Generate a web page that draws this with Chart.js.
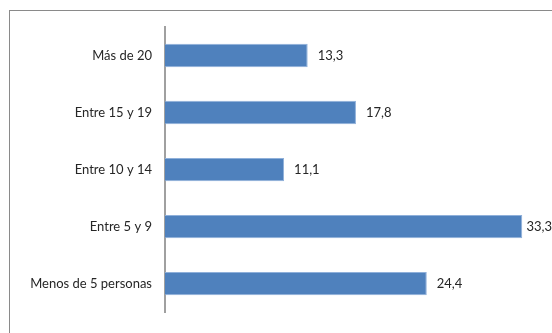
<!DOCTYPE html>
<html>
<head>
<meta charset="utf-8">
<script src="https://cdn.jsdelivr.net/npm/chart.js@4"></script>
<style>
    body { margin: 0; background: #fff; overflow: hidden; }
    .frame { position: absolute; left: 9px; top: 10px; width: 600px; height: 400px; border: 1px solid #8a8a8a; }
    #wrap { position: absolute; left: 0; top: 0; width: 552px; height: 333px; }
</style>
</head>
<body>
<div class="frame"></div>
<div id="wrap"><canvas id="chart" width="552" height="333"></canvas></div>
<script>
// Data (top to bottom as shown)
const categories = ['Más de 20', 'Entre 15 y 19', 'Entre 10 y 14', 'Entre 5 y 9', 'Menos de 5 personas'];
const values = [13.3, 17.8, 11.1, 33.3, 24.4];

const fontFamily = 'Lato, "Liberation Sans", sans-serif';

// Value labels drawn at the end of each bar
const valueLabels = {
    id: 'valueLabels',
    afterDatasetsDraw(chart) {
        const ctx = chart.ctx;
        const meta = chart.getDatasetMeta(0);
        ctx.save();
        ctx.font = '13px ' + fontFamily;
        ctx.fillStyle = '#262626';
        ctx.textBaseline = 'middle';
        ctx.textAlign = 'left';
        meta.data.forEach((bar, i) => {
            const text = values[i].toFixed(1).replace('.', ',');
            const w = ctx.measureText(text).width;
            const x = Math.min(bar.x + 10, chart.width - w);
            ctx.fillText(text, x, bar.y);
        });
        ctx.restore();
    }
};

new Chart(document.getElementById('chart'), {
    type: 'bar',
    data: {
        labels: categories,
        datasets: [{
            data: values,
            backgroundColor: '#4F81BD',
            borderColor: '#8fb0da',
            borderWidth: 1,
            borderSkipped: 'left',
            categoryPercentage: 1,
            barPercentage: 0.41
        }]
    },
    options: {
        indexAxis: 'y',
        responsive: false,
        animation: false,
        layout: { padding: { top: 27, bottom: 11, right: 11.5, left: 0 } },
        plugins: {
            legend: { display: false },
            tooltip: { enabled: false }
        },
        scales: {
            x: {
                display: false,
                min: 0,
                max: 35
            },
            y: {
                grid: { display: false, drawTicks: false },
                border: { display: true, color: '#a0a0a0', width: 2 },
                ticks: {
                    padding: 13,
                    color: '#262626',
                    font: { family: fontFamily, size: 13 }
                },
                afterFit(scale) { scale.width = 165; }
            }
        }
    },
    plugins: [valueLabels]
});
</script>
</body>
</html>
